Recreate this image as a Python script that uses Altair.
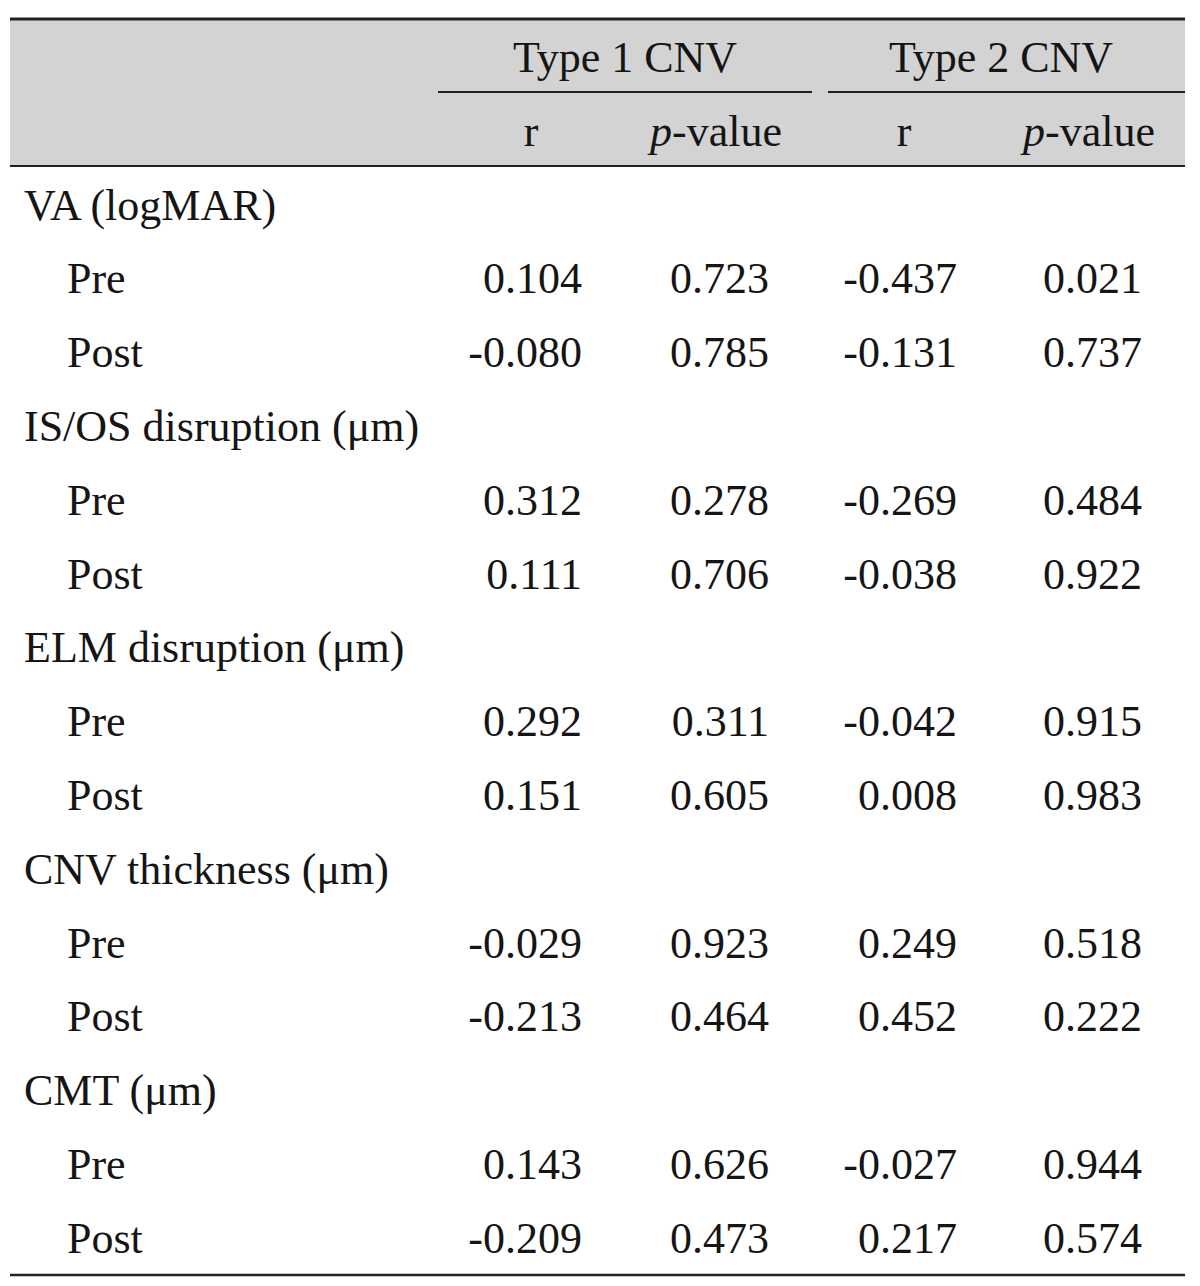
import altair as alt
import pandas as pd

# ---------------- data ----------------
groups = ["VA (logMAR)", "IS/OS disruption (μm)", "ELM disruption (μm)",
          "CNV thickness (μm)", "CMT (μm)"]
timepoints = ["Pre", "Post"]
type1_r = [0.104, -0.080, 0.312, 0.111, 0.292, 0.151, -0.029, -0.213, 0.143, -0.209]
type1_p = [0.723, 0.785, 0.278, 0.706, 0.311, 0.605, 0.923, 0.464, 0.626, 0.473]
type2_r = [-0.437, -0.131, -0.269, -0.038, -0.042, 0.008, 0.249, 0.452, -0.027, 0.217]
type2_p = [0.021, 0.737, 0.484, 0.922, 0.915, 0.983, 0.518, 0.222, 0.944, 0.574]
group_headers = ["Type 1 CNV", "Type 2 CNV"]
sub_headers = ["r", "p-value", "r", "p-value"]

# ---------------- layout ----------------
W, H = 1184, 1270
OFF = 8                       # page margin
FONT = "Liberation Serif"
FS = 44
INK = "#151515"
ROW_STEP = 73.8
FIRST_BASELINE = 72 - OFF     # baseline of header row 0 from chart top
y_domain = [-FIRST_BASELINE / ROW_STEP, (H - FIRST_BASELINE) / ROW_STEP]
x_domain = [OFF, OFF + W]


def row_at(px):
    return (px - OFF - FIRST_BASELINE) / ROW_STEP


GROUP_X = 24
ITEM_X = 67
NUM_RIGHT = [582, 769, 957, 1142]
SUB_CENTER = [531, 716, 904, 1089]
GROUP_CENTER = [625, 1001]
SPANS = [(438, 812), (828, 1185)]
TABLE_X = (10, 1185)
PWORD = FS * 3.0              # width of "p-value"
PCHAR = FS * 0.5              # width of italic "p"

# ---------------- tables ----------------
labels, nums = [], []
row = 2
k = 0
for g in groups:
    labels.append({"x": GROUP_X, "row": row, "t": g})
    row += 1
    for tp in timepoints:
        labels.append({"x": ITEM_X, "row": row, "t": tp})
        for ci, arr in enumerate([type1_r, type1_p, type2_r, type2_p]):
            nums.append({"x": NUM_RIGHT[ci], "row": row, "t": f"{arr[k]:.3f}"})
        row += 1
        k += 1

center_txt = []
for gi, gh in enumerate(group_headers):
    center_txt.append({"x": GROUP_CENTER[gi], "row": 0, "t": gh})
italic_p, rest_txt = [], []
for ci, sh in enumerate(sub_headers):
    if sh.startswith("p-"):
        split = SUB_CENTER[ci] - PWORD / 2 + PCHAR
        italic_p.append({"x": split, "row": 1, "t": "p"})
        rest_txt.append({"x": split, "row": 1, "t": sh[1:]})
    else:
        center_txt.append({"x": SUB_CENTER[ci], "row": 1, "t": sh})

rules = pd.DataFrame([
    {"x": TABLE_X[0], "x2": TABLE_X[1], "y": row_at(19), "w": 3},
    {"x": SPANS[0][0], "x2": SPANS[0][1], "y": row_at(92), "w": 2},
    {"x": SPANS[1][0], "x2": SPANS[1][1], "y": row_at(92), "w": 2},
    {"x": TABLE_X[0], "x2": TABLE_X[1], "y": row_at(166), "w": 2},
    {"x": TABLE_X[0], "x2": TABLE_X[1], "y": row_at(1275), "w": 2.5},
])
band = pd.DataFrame([{"x": TABLE_X[0], "x2": TABLE_X[1],
                      "y": row_at(18), "y2": row_at(166)}])

X = alt.X("x:Q", scale=alt.Scale(domain=x_domain), axis=None)
Y = alt.Y("row:Q", scale=alt.Scale(domain=y_domain, reverse=True), axis=None)
YR = alt.Y("y:Q", scale=alt.Scale(domain=y_domain, reverse=True), axis=None)

band_layer = alt.Chart(band).mark_rect(color="#d3d3d3").encode(
    x=X, x2="x2:Q", y=YR, y2="y2:Q")
rule_layer = alt.Chart(rules).mark_rule(color="#222222").encode(
    x=X, x2="x2:Q", y=YR, strokeWidth=alt.StrokeWidth("w:Q", scale=None))


def text_layer(rows, align, style="normal"):
    return alt.Chart(pd.DataFrame(rows)).mark_text(
        align=align, baseline="alphabetic", font=FONT, fontSize=FS,
        fontStyle=style, color=INK).encode(x=X, y=Y, text="t:N")


chart = alt.layer(
    band_layer,
    rule_layer,
    text_layer(labels, "left"),
    text_layer(nums, "right"),
    text_layer(center_txt, "center"),
    text_layer(italic_p, "right", "italic"),
    text_layer(rest_txt, "left"),
).properties(
    width=W, height=H,
    autosize=alt.AutoSizeParams(type="none"),
    padding=0,
    background="white",
).configure_view(stroke=None)

chart.save("out.html", embed_options={"renderer": "svg", "actions": False})
